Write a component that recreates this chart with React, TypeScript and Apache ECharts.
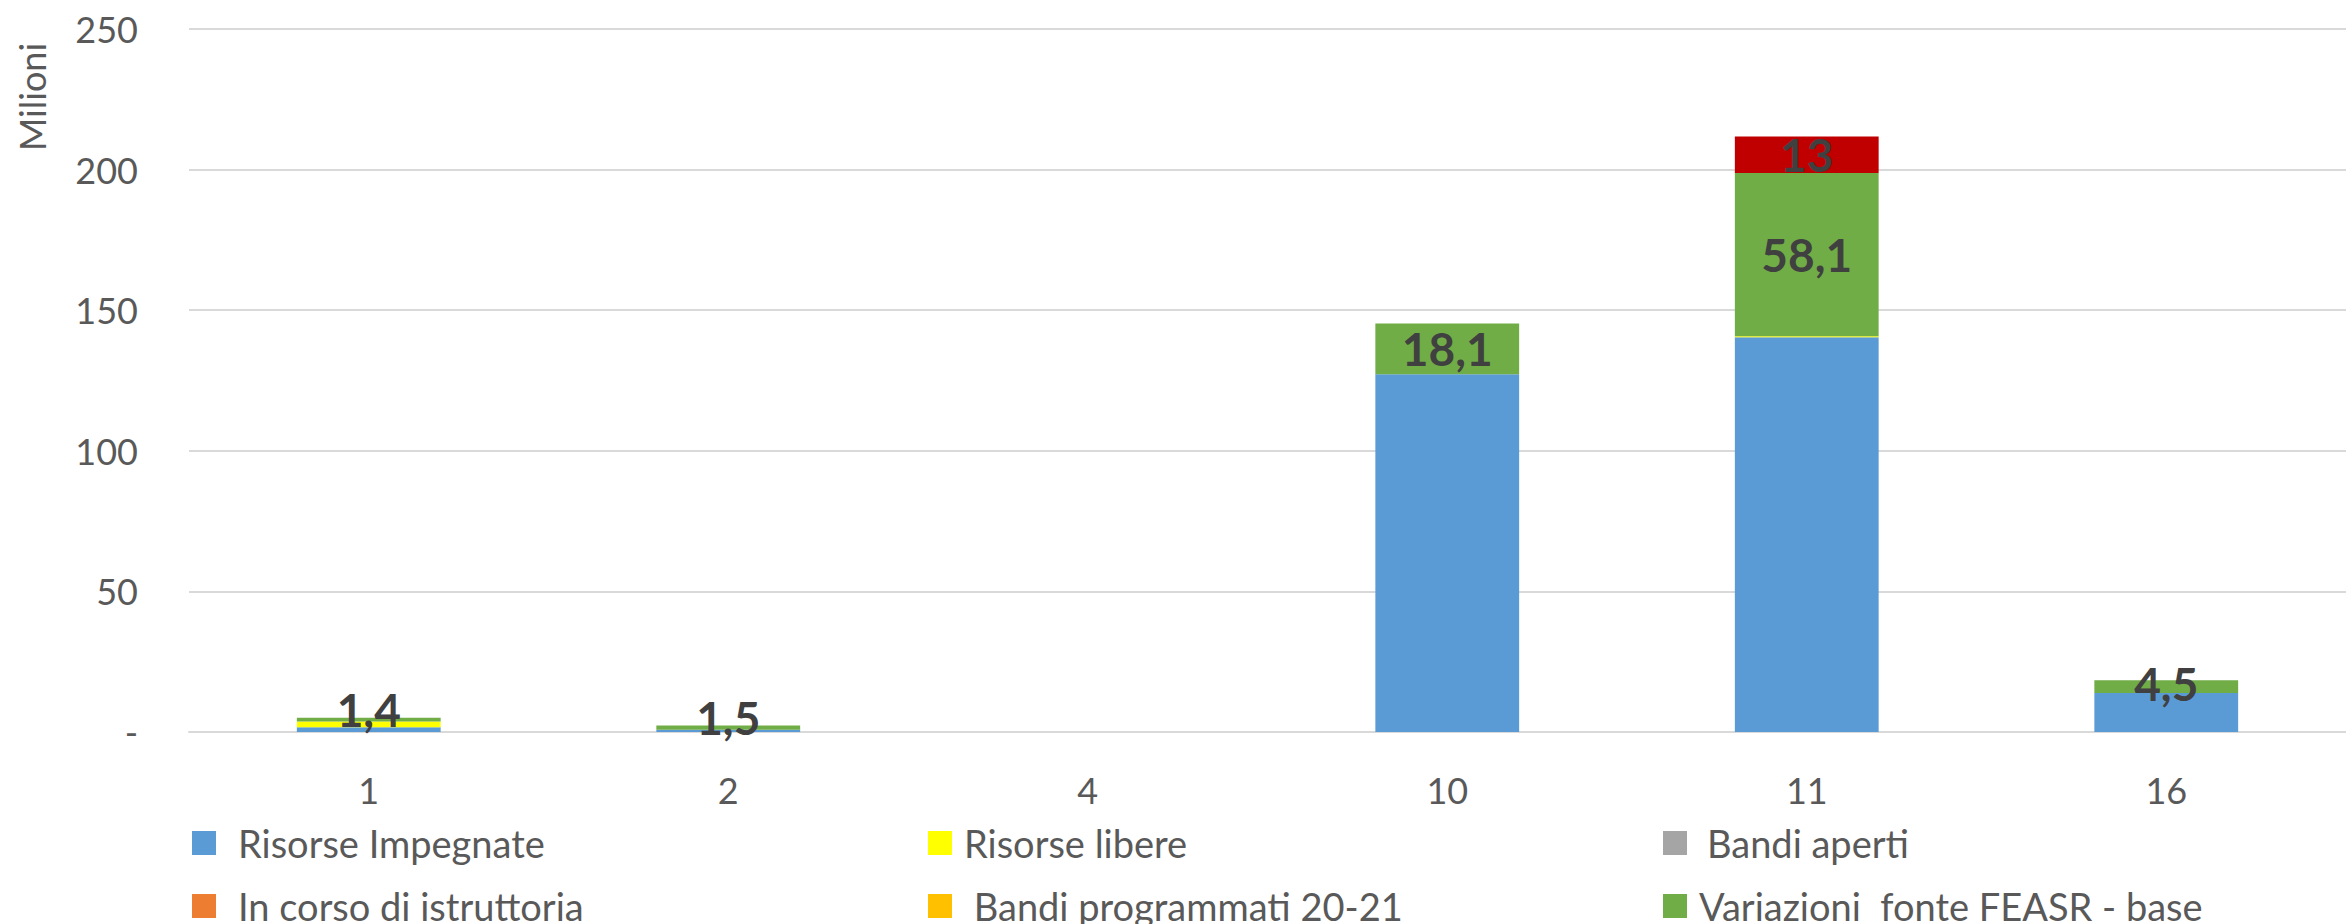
import React, { useEffect, useRef } from "react";
import * as echarts from "echarts";

const categories = ["1", "2", "4", "10", "11", "16"];
const risorseImpegnate = [1.7, 0.8, 0, 127.2, 140.4, 13.9];
const risorseLibere = [2.0, 0, 0, 0, 0.3, 0];
const bandiAperti = [0, 0, 0, 0, 0, 0];
const inCorsoIstruttoria = [0, 0, 0, 0, 0, 0];
const bandiProgrammati = [0, 0, 0, 0, 0, 0];
const variazioniBase = [1.4, 1.5, null, 18.1, 58.1, 4.5];
const variazioniAltro = [null, null, null, null, 13, null];
const yTicks = { min: 0, max: 250, interval: 50 };

const FONT = "Lato, 'Open Sans', sans-serif";

export default function App() {
  const ref = useRef<HTMLDivElement>(null);
  useEffect(() => {
    if (!ref.current) return;
    const chart = echarts.init(ref.current, undefined, { renderer: "svg" });
    const fmt = (p: any) =>
      p.value == null || p.value === 0 ? "" : String(p.value).replace(".", ",");
    const labelStyle = {
      show: true,
      position: "inside",
      formatter: fmt,
      color: "#404040",
      fontSize: 46,
      fontWeight: "bold",
      fontFamily: FONT,
    };
    // thin segments: lift label slightly, as the spreadsheet does
    const withLift = (data: (number | null)[]) =>
      data.map((v) =>
        v != null && v < 3
          ? { value: v, label: { offset: [0, -10] } }
          : v != null && v < 10
          ? { value: v, label: { offset: [0, -3] } }
          : v
      );
    const mk = (name: string, data: any[], color: string, label = false) => ({
      name,
      type: "bar",
      stack: "tot",
      data: label ? withLift(data) : data,
      barWidth: "40%",
      itemStyle: { color },
      label: label ? labelStyle : { show: false },
      emphasis: { disabled: true },
    });
    const legendItem = (name: string, left: number, top: number, pad: number) => ({
      data: [name],
      left,
      top,
      padding: 0,
      icon: "rect",
      itemWidth: 24,
      itemHeight: 24,
      selectedMode: false,
      textStyle: {
        fontSize: 38,
        color: "#595959",
        fontFamily: FONT,
        lineHeight: 44,
        padding: [0, 0, 0, pad],
      },
    });
    chart.setOption({
      animation: false,
      backgroundColor: "#ffffff",
      grid: { left: 189, right: -11, top: 29, bottom: 192, containLabel: false },
      legend: [
        legendItem("Risorse Impegnate", 192, 821, 17),
        legendItem("In corso di istruttoria", 192, 884, 17),
        legendItem("Risorse libere", 928, 821, 7),
        legendItem(" Bandi programmati 20-21", 928, 884, 7),
        legendItem("Bandi aperti", 1663, 821, 15),
        legendItem("Variazioni  fonte FEASR - base", 1663, 884, 7),
      ],
      xAxis: {
        type: "category",
        data: categories,
        axisTick: { show: false },
        axisLine: { lineStyle: { color: "#D9D9D9", width: 2 } },
        axisLabel: { color: "#595959", fontSize: 36, fontFamily: FONT, margin: 40 },
      },
      yAxis: {
        type: "value",
        min: yTicks.min,
        max: yTicks.max,
        interval: yTicks.interval,
        axisLine: { show: false },
        axisTick: { show: false },
        splitLine: { lineStyle: { color: "#D9D9D9", width: 2 } },
        axisLabel: {
          color: "#595959",
          fontSize: 36,
          fontFamily: FONT,
          margin: 51,
          formatter: (v: number) => (v === 0 ? "-" : String(v)),
        },
      },
      graphic: [
        {
          type: "text",
          x: 32,
          y: 97,
          rotation: Math.PI / 2,
          style: {
            text: "Milioni",
            fontSize: 36,
            fontFamily: FONT,
            fill: "#595959",
            align: "center",
            verticalAlign: "middle",
          },
        },
      ],
      series: [
        mk("Risorse Impegnate", risorseImpegnate, "#5B9BD5"),
        mk("Risorse libere", risorseLibere, "#FFFF00"),
        mk("Bandi aperti", bandiAperti, "#A5A5A5"),
        mk("In corso di istruttoria", inCorsoIstruttoria, "#ED7D31"),
        mk(" Bandi programmati 20-21", bandiProgrammati, "#FFC000"),
        mk("Variazioni  fonte FEASR - base", variazioniBase, "#70AD47", true),
        mk("Variazioni fonte FEASR - altre", variazioniAltro, "#C00000", true),
      ],
    });
    return () => chart.dispose();
  }, []);
  return (
    <div
      ref={ref}
      style={{ position: "absolute", left: 0, top: 0, width: 2346, height: 924 }}
    />
  );
}
